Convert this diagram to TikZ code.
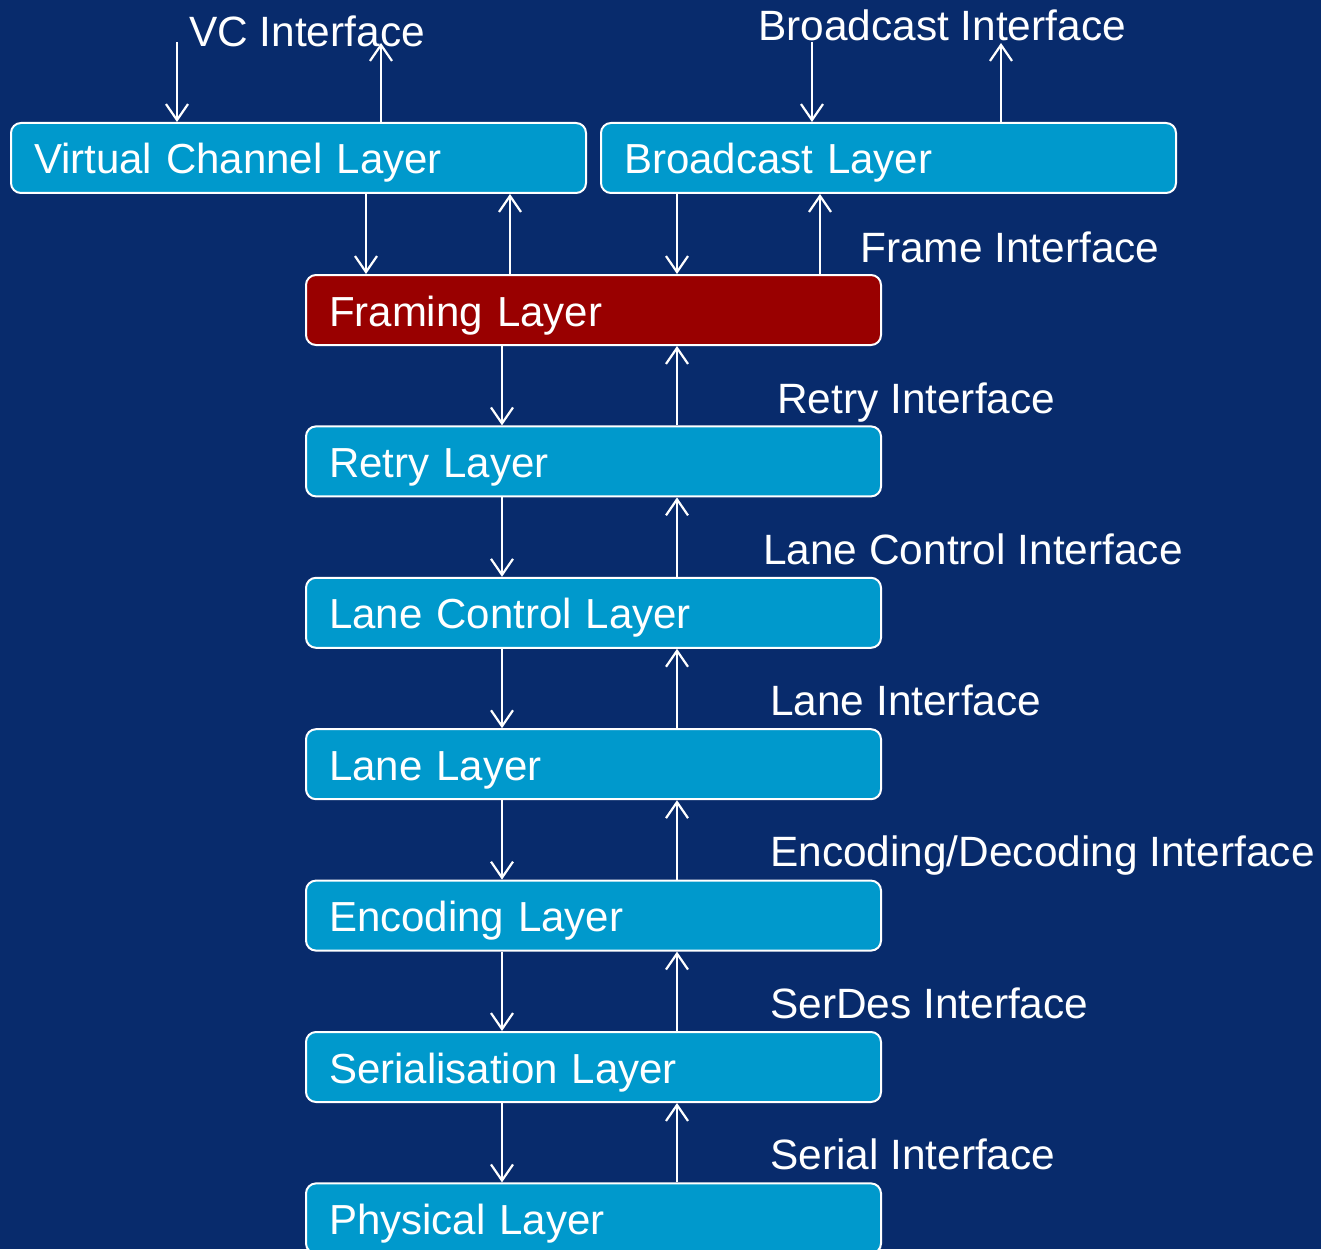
\documentclass[tikz,border=0pt]{standalone}
\usepackage{fontspec}
\setmainfont{Liberation Sans}
\usetikzlibrary{arrows.meta}
\definecolor{navy}{RGB}{8,43,108}
\definecolor{layerblue}{RGB}{0,153,204}
\definecolor{layerred}{RGB}{153,0,0}
\begin{document}
\begin{tikzpicture}[x=1pt,y=-1pt,
  layer/.style={draw=white, line width=2pt, fill=layerblue, rounded corners=10pt,
    anchor=north west, inner xsep=23pt, inner ysep=0pt,
    text width=529pt, align=left, text height=51pt, text depth=19pt,
    text=white, font=\fontsize{42}{50}\selectfont},
  iface/.style={anchor=base west, inner sep=0pt, text=white,
    font=\fontsize{42.4}{50}\selectfont},
  arr/.style={draw=white, line width=2.2pt,
    -{Straight Barb[length=16pt,width=22pt,line width=2.2pt]}}]

% page and background
\useasboundingbox (0,0) rectangle (1321,1249);
\fill[navy] (0,0) rectangle (1321,1249);

% layer boxes
\node[layer] (vcl) at (10,122) {Virtual Channel Layer};
\node[layer] (bcl) at (600,122) {Broadcast Layer};
\node[layer, fill=layerred] (frm) at (305,274) {Framing Layer};
\node[layer] (rty) at (305,425.4) {Retry Layer};
\node[layer] (lcl) at (305,576.8) {Lane Control Layer};
\node[layer] (lan) at (305,728.2) {Lane Layer};
\node[layer] (enc) at (305,879.6) {Encoding Layer};
\node[layer] (ser) at (305,1031) {Serialisation Layer};
\node[layer] (phy) at (305,1182.4) {Physical Layer};

% interface labels
\node[iface] (vcif) at (189,47) {VC Interface};
\node[iface] (bcif) at (758,41) {Broadcast Interface};
\node[iface] (frif) at (860,262) {Frame Interface};
\node[iface] (rtif) at (777,413) {Retry Interface};
\node[iface] (lcif) at (763,564) {Lane Control Interface};
\node[iface] (lnif) at (770,715) {Lane Interface};
\node[iface] (edif) at (770,866) {Encoding/Decoding Interface};
\node[iface] (sdif) at (770,1018) {SerDes Interface};
\node[iface] (slif) at (770,1169) {Serial Interface};

% free ends of the top-level interfaces
\coordinate (vcin) at (177,42);
\coordinate (vcout) at (381,43);
\coordinate (bcin) at (812,42);
\coordinate (bcout) at (1001,43);

% arrow columns
\coordinate (xvd) at (366,0);
\coordinate (xvu) at (510,0);
\coordinate (xbd) at (677,0);
\coordinate (xbu) at (820,0);
\coordinate (xd) at (502,0);
\coordinate (xu) at (677,0);

% top interfaces
\draw[arr] (vcin) -- (vcin |- vcl.north);
\draw[arr] (vcl.north -| vcout) -- (vcout);
\draw[arr] (bcin) -- (bcin |- bcl.north);
\draw[arr] (bcl.north -| bcout) -- (bcout);

% into and out of the framing layer
\draw[arr] (vcl.south -| xvd) -- (frm.north -| xvd);
\draw[arr] (frm.north -| xvu) -- (vcl.south -| xvu);
\draw[arr] (bcl.south -| xbd) -- (frm.north -| xbd);
\draw[arr] (frm.north -| xbu) -- (bcl.south -| xbu);

% the layer stack
\foreach \a/\b in {frm/rty, rty/lcl, lcl/lan, lan/enc, enc/ser, ser/phy}{
  \draw[arr] (\a.south -| xd) -- (\b.north -| xd);
  \draw[arr] (\b.north -| xu) -- (\a.south -| xu);
}
\end{tikzpicture}
\end{document}
